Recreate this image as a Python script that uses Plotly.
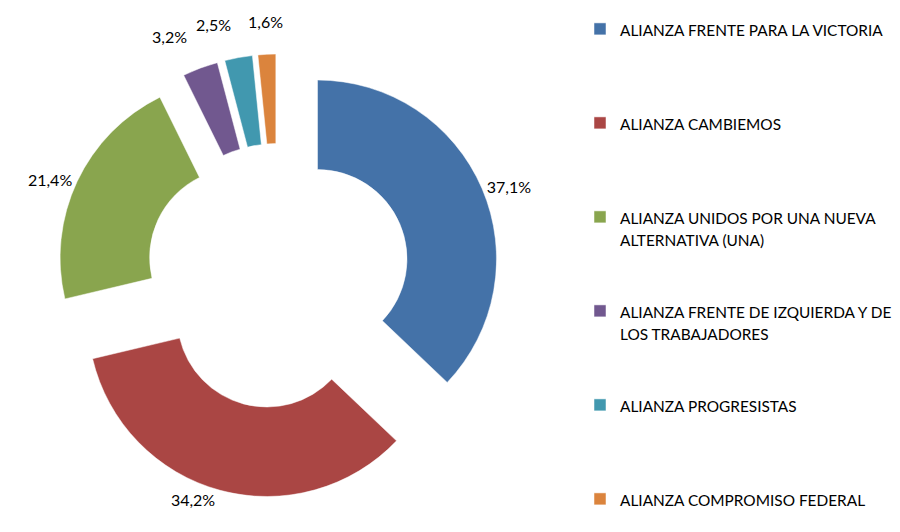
import math
import plotly.graph_objects as go

parties = [
    "ALIANZA FRENTE PARA LA VICTORIA",
    "ALIANZA CAMBIEMOS",
    "ALIANZA UNIDOS POR UNA NUEVA<br>ALTERNATIVA (UNA)",
    "ALIANZA FRENTE DE IZQUIERDA Y DE<br>LOS TRABAJADORES",
    "ALIANZA PROGRESISTAS",
    "ALIANZA COMPROMISO FEDERAL",
]
shares = [37.1, 34.2, 21.4, 3.2, 2.5, 1.6]
share_labels = ["37,1%", "34,2%", "21,4%", "3,2%", "2,5%", "1,6%"]
colors = ["#4472A8", "#AA4644", "#89A54E", "#71588F", "#4198AF", "#DB843D"]

# the page body adds an 8px margin, so the figure is sized to fill the rest of the window
W, H = 892, 524
PULL = 0.24
DOM_X = [48 / W, 492 / W]
DOM_Y = [1 - 490 / H, 1 - 46 / H]
LEGEND_FS = 17.5     # sets legend line pitch
TEXT_FS = 15.4       # visible legend text size
LABEL_FS = 16
SLOT_LINES = 4
FONT = "Lato"

# legend entries padded so that every entry occupies the same vertical slot
legend_labels = []
for i, p in enumerate(parties):
    lines = p.split("<br>")
    body = "<br>".join(f'<span style="font-size:{TEXT_FS}px">{ln}</span>' for ln in lines)
    if i < len(parties) - 1:
        body += "<br> " * (SLOT_LINES - len(lines))
    legend_labels.append(body)

# big slices: plotly's own outside text; thin slices: labels placed along the bisector
big = [v >= 10 for v in shares]
textpos = ["outside" if b else "none" for b in big]

fig = go.Figure(
    go.Pie(
        labels=legend_labels,
        values=shares,
        text=share_labels,
        textinfo="text",
        textposition=textpos,
        hole=0.5,
        pull=PULL,
        sort=False,
        direction="clockwise",
        rotation=0,
        marker=dict(colors=colors, line=dict(color="white", width=0.5)),
        outsidetextfont=dict(family=FONT, size=LABEL_FS, color="#000000"),
        domain=dict(x=DOM_X, y=DOM_Y),
        hoverinfo="percent",
    )
)

# geometry of the pie as plotly lays it out (margins are zero)
cx = (DOM_X[0] + DOM_X[1]) / 2 * W
cy = (1 - (DOM_Y[0] + DOM_Y[1]) / 2) * H
R = min((DOM_X[1] - DOM_X[0]) * W, (DOM_Y[1] - DOM_Y[0]) * H) / 2 / (1 + PULL)
total = sum(shares)
cum = 0.0
for v, lab, b in zip(shares, share_labels, big):
    mid = (cum + v / 2) / total * 2 * math.pi
    cum += v
    if b:
        continue
    d = R * (1 + PULL) * 1.15
    px = cx + d * math.sin(mid)
    py = cy - d * math.cos(mid)
    s = math.sin(mid)
    fig.add_annotation(
        x=px / W, y=1 - py / H, xref="paper", yref="paper",
        text=lab, showarrow=False,
        xanchor="right" if s < -0.1 else ("left" if s > 0.1 else "center"),
        yanchor="middle",
        font=dict(family=FONT, size=LABEL_FS, color="#000000"),
    )

fig.update_layout(
    width=W,
    height=H,
    margin=dict(l=0, r=0, t=0, b=0, autoexpand=False),
    paper_bgcolor="white",
    plot_bgcolor="white",
    font=dict(family=FONT, size=LABEL_FS, color="#000000"),
    legend=dict(
        x=572 / W,
        y=1 - 3 / H,
        xanchor="left",
        yanchor="top",
        valign="top",
        font=dict(family=FONT, size=LEGEND_FS, color="#000000"),
        itemclick=False,
        itemdoubleclick=False,
    ),
)

fig.write_html("out.html")
